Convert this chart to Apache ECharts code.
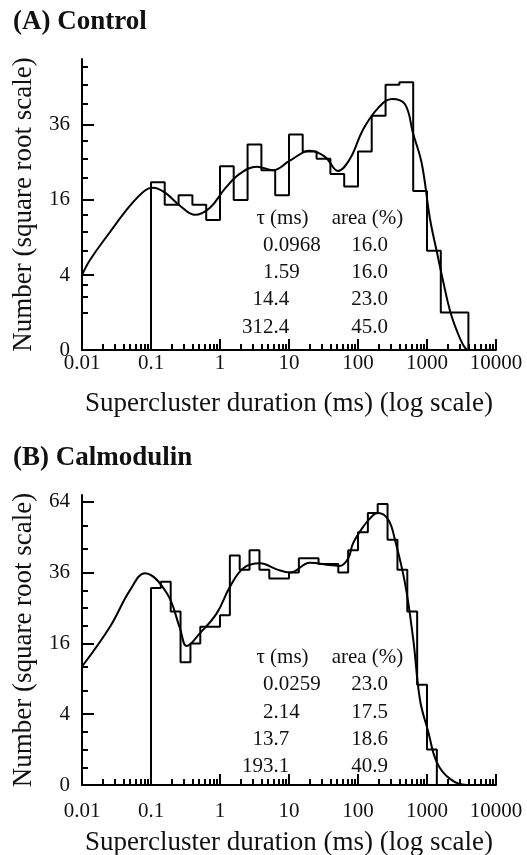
<!DOCTYPE html>
<html><head><meta charset="utf-8">
<script src="https://cdn.jsdelivr.net/npm/echarts@6/dist/echarts.min.js"></script>
<style>html,body{margin:0;padding:0;background:#fff}#c{width:527px;height:855px}</style>
</head><body><div id="c"></div>
<script>
// ---------- data ----------
const xTickLabels = ['0.01', '0.1', '1', '10', '100', '1000', '10000'];
const xMinorMultipliers = [2, 3, 4, 5, 6, 7, 8, 9];

const yMajorA = [0, 4, 16, 36];
const yMinorA = [1, 2, 3, 7, 10, 13, 21, 26, 31, 43, 50, 57];
const yMaxA = 60.2;

const yMajorB = [0, 4, 16, 36, 64];
const yMinorB = [0.25, 1, 2.25, 7.1, 11.1, 20.25, 25, 30.25, 44.4, 53.8];
const yMaxB = 67.1;

// Panel A histogram (bin edges in ms, counts)
const binEdgesA = [0.1, 0.158, 0.251, 0.398, 0.631, 1, 1.58, 2.51, 3.98, 6.31, 10, 15.8, 25.1, 39.8, 63.1, 100, 158, 251, 398, 631, 1000, 1585, 2512, 3981];
const countsA = [20, 15, 17, 15, 12, 24, 16, 30, 23, 17, 33, 28, 26, 22, 19, 28, 39, 50, 51, 18, 7, 1, 1];
// Panel A fitted curve
const fitXA = [0.01, 0.01306, 0.02547, 0.04966, 0.0818, 0.107, 0.1596, 0.263, 0.4345, 0.716, 1.18, 1.95, 3.44, 5.86, 10.3, 20.1, 33.3, 51.3, 76.6, 118, 195, 311, 480, 627, 838, 1104, 1396, 1706, 2155, 2722, 3325, 3802];
const fitYA = [4, 5.76, 9.9, 14.8, 18.1, 18.7, 17.6, 14.8, 13, 14.4, 18.5, 22.1, 23.9, 23, 25.5, 28.2, 26.5, 22.8, 26, 34.5, 41.6, 44.8, 42.9, 33.4, 24.8, 12.25, 6.76, 3.42, 1.1, 0.25, 0.02, 0];

// Panel B histogram
const binEdgesB = [0.1, 0.139, 0.193, 0.268, 0.373, 0.518, 0.720, 1, 1.39, 1.93, 2.68, 3.73, 5.18, 7.20, 10, 13.9, 19.3, 26.8, 37.3, 51.8, 72.0, 100, 139, 193, 268, 373, 518, 720, 1000, 1389];
const countsB = [31, 33, 24, 12, 16, 20, 20, 23, 42, 37, 44, 37, 34, 34, 36, 41, 41, 39, 39, 36, 44, 51, 59, 63, 48, 37, 24, 8, 1];
// Panel B fitted curve
const fitXB = [0.01, 0.02547, 0.04966, 0.0818, 0.169, 0.263, 0.329, 0.513, 0.895, 1.397, 2.18, 3.80, 6.64, 10.3, 20.1, 39.3, 54.8, 72.3, 84.7, 119.4, 166.7, 197, 275, 344, 480, 633, 792, 1045, 1383, 2155, 3758, 5860];
const fitYB = [11.2, 20, 30.3, 35.8, 29.4, 19.6, 15.4, 18.4, 23.5, 31.4, 37.5, 39.2, 37.1, 36, 39.4, 38.6, 38.3, 41, 46.6, 53.3, 58.2, 59, 56.1, 47.9, 32.5, 16.8, 5.76, 2.25, 0.42, 0.03, 0, 0];

// Annotation tables
const tableHeader = ['τ (ms)', 'area (%)'];
const tauA = ['0.0968', '1.59', '14.4', '312.4'];
const areaA = ['16.0', '16.0', '23.0', '45.0'];
const tauB = ['0.0259', '2.14', '13.7', '193.1'];
const areaB = ['23.0', '17.5', '18.6', '40.9'];

const panelTitles = ['(A) Control', '(B) Calmodulin'];
const xName = 'Supercluster duration (ms) (log scale)';
const yName = 'Number (square root scale)';

// ---------- helpers ----------
const FONT = '"Liberation Serif", "Times New Roman", serif';
const INK = '#111';

function stepPoints(edges, counts) {
  const pts = [[edges[0], 0]];
  for (let i = 0; i < counts.length; i++) {
    pts.push([edges[i], Math.sqrt(counts[i])]);
    pts.push([edges[i + 1], Math.sqrt(counts[i])]);
  }
  pts.push([edges[edges.length - 1], 0]);
  return pts;
}
function curvePoints(xs, ys) { return xs.map((x, i) => [x, Math.sqrt(ys[i])]); }

const minorLog = [];
for (let d = -2; d < 4; d++) xMinorMultipliers.forEach(m => minorLog.push(d + Math.log10(m)));

function xAxesFor(gi, labelMargin, nameGap) {
  return [{
    type: 'log', logBase: 10, gridIndex: gi, min: 0.01, max: 10000, position: 'bottom',
    axisLine: { onZero: false, lineStyle: { color: '#000', width: 2 } },
    axisTick: { inside: true, length: 11, lineStyle: { color: '#000', width: 2 } },
    axisLabel: { margin: labelMargin, color: INK, fontFamily: FONT, fontSize: 21,
      formatter: v => xTickLabels[Math.round(Math.log10(v)) + 2] },
    splitLine: { show: false }, minorTick: { show: false },
    name: xName, nameLocation: 'middle', nameGap: nameGap,
    nameTextStyle: { color: INK, fontFamily: FONT, fontSize: 27 }
  }, {
    type: 'value', gridIndex: gi, min: -2, max: 4, position: 'bottom',
    axisLine: { show: false, onZero: false },
    axisTick: { show: true, inside: true, length: 6, customValues: minorLog, lineStyle: { color: '#000', width: 2 } },
    axisLabel: { show: false }, splitLine: { show: false }
  }];
}
function yAxesFor(gi, majors, minors, maxCount) {
  const mx = Math.sqrt(maxCount);
  const majS = majors.map(Math.sqrt);
  return [{
    type: 'value', gridIndex: gi, min: 0, max: mx, position: 'left',
    axisLine: { show: true, onZero: false, lineStyle: { color: '#000', width: 2 } },
    axisTick: { show: true, inside: true, length: 12, customValues: majS, lineStyle: { color: '#000', width: 2 } },
    axisLabel: { margin: 12, color: INK, fontFamily: FONT, fontSize: 21, customValues: majS,
      formatter: v => { let best = 0; majS.forEach((s, i) => { if (Math.abs(s - v) < Math.abs(majS[best] - v)) best = i; }); return String(majors[best]); } },
    splitLine: { show: false },
    name: yName, nameLocation: 'middle', nameRotate: 90, nameGap: 45,
    nameTextStyle: { color: INK, fontFamily: FONT, fontSize: 27 }
  }, {
    type: 'value', gridIndex: gi, min: 0, max: mx, position: 'left', offset: 0,
    axisLine: { show: false, onZero: false },
    axisTick: { show: true, inside: true, length: 6, customValues: minors.map(Math.sqrt), lineStyle: { color: '#000', width: 2 } },
    axisLabel: { show: false }, splitLine: { show: false }
  }];
}

function tableGraphics(tops, tau, area, decX, areaRightX, hdrCenters) {
  const els = [];
  const f = '21px ' + FONT;
  els.push({ type: 'text', style: { text: tableHeader[0], x: hdrCenters[0], y: tops[0], font: f, fill: INK, align: 'center', textAlign: 'center', verticalAlign: 'middle', textVerticalAlign: 'middle' } });
  els.push({ type: 'text', style: { text: tableHeader[1], x: hdrCenters[1], y: tops[0], font: f, fill: INK, align: 'center', textAlign: 'center', verticalAlign: 'middle', textVerticalAlign: 'middle' } });
  tau.forEach((t, i) => {
    const [ip, fp] = t.split('.');
    const y = tops[i + 1];
    els.push({ type: 'text', style: { text: ip, x: decX, y, font: f, fill: INK, align: 'right', textAlign: 'right', verticalAlign: 'middle', textVerticalAlign: 'middle' } });
    els.push({ type: 'text', style: { text: '.' + fp, x: decX, y, font: f, fill: INK, align: 'left', textAlign: 'left', verticalAlign: 'middle', textVerticalAlign: 'middle' } });
    els.push({ type: 'text', style: { text: area[i], x: areaRightX, y, font: f, fill: INK, align: 'right', textAlign: 'right', verticalAlign: 'middle', textVerticalAlign: 'middle' } });
  });
  return els;
}

const lineStyle = { color: '#000', width: 2 };
const chart = echarts.init(document.getElementById('c'), null, { renderer: 'canvas' });
const option = {
  animation: false,
  backgroundColor: '#fff',
  grid: [
    { left: 82, top: 59, width: 414, height: 291, outerBoundsMode: 'none', containLabel: false },
    { left: 82, top: 495, width: 414, height: 290, outerBoundsMode: 'none', containLabel: false }
  ],
  xAxis: [...xAxesFor(0, 3, 40), ...xAxesFor(1, 16, 44)],
  yAxis: [...yAxesFor(0, yMajorA, yMinorA, yMaxA), ...yAxesFor(1, yMajorB, yMinorB, yMaxB)],
  series: [
    { type: 'line', xAxisIndex: 0, yAxisIndex: 0, data: stepPoints(binEdgesA, countsA), symbol: 'none', lineStyle, clip: true },
    { type: 'line', xAxisIndex: 0, yAxisIndex: 0, data: curvePoints(fitXA, fitYA), symbol: 'none', smooth: 0.4, lineStyle, clip: true },
    { type: 'line', xAxisIndex: 2, yAxisIndex: 2, data: stepPoints(binEdgesB, countsB), symbol: 'none', lineStyle, clip: true },
    { type: 'line', xAxisIndex: 2, yAxisIndex: 2, data: curvePoints(fitXB, fitYB), symbol: 'none', smooth: 0.4, lineStyle, clip: true }
  ],
  graphic: [
    { type: 'text', style: { text: panelTitles[0], x: 13, y: 22, font: 'bold 27px ' + FONT, fill: INK, align: 'left', textAlign: 'left', verticalAlign: 'middle', textVerticalAlign: 'middle' } },
    { type: 'text', style: { text: panelTitles[1], x: 13, y: 458, font: 'bold 27px ' + FONT, fill: INK, align: 'left', textAlign: 'left', verticalAlign: 'middle', textVerticalAlign: 'middle' } },
    ...tableGraphics([218, 245, 272, 299, 327], tauA, areaA, 273.5, 388, [282.5, 367.5]),
    ...tableGraphics([657, 684, 712, 739, 766], tauB, areaB, 273.5, 388, [282.5, 367.5])
  ]
};
chart.setOption(option);
</script>
</body></html>
